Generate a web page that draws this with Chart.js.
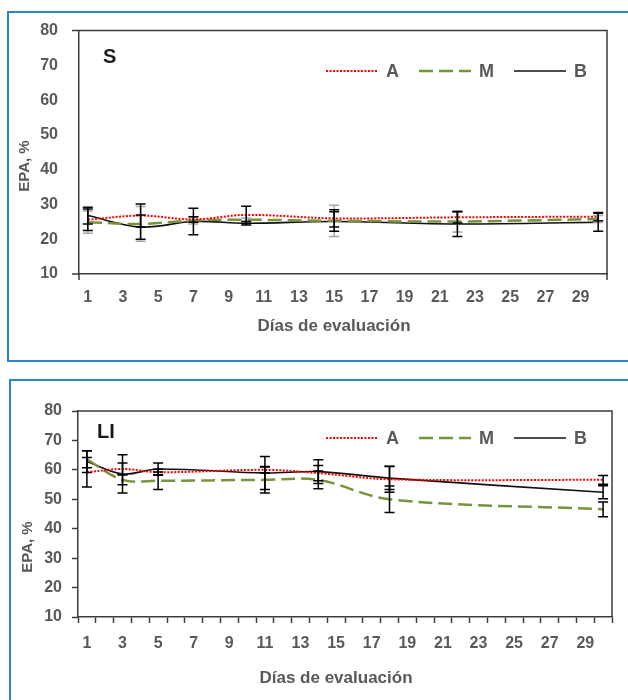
<!DOCTYPE html>
<html>
<head>
<meta charset="utf-8">
<script src="https://cdn.jsdelivr.net/npm/chart.js@4.4.1/dist/chart.umd.min.js"></script>
<style>
  html, body { margin: 0; padding: 0; background: #fff; overflow: hidden; }
  body { width: 628px; height: 700px; position: relative; }
  .panel { position: absolute; box-sizing: border-box; border: 2px solid #2d87cf; }
  #panelS { left: 7px; top: 11px; width: 700px; height: 351px; }
  #panelLI { left: 9px; top: 379px; width: 700px; height: 400px; }
  canvas { position: absolute; left: 0; }
  #chartS { top: 0; }
  #chartLI { top: 380px; }
</style>
</head>
<body>
<div class="panel" id="panelS"></div>
<div class="panel" id="panelLI"></div>
<canvas id="chartS" width="628" height="362"></canvas>
<canvas id="chartLI" width="628" height="320"></canvas>
<script>
// Category labels: days 1..30
const days = Array.from({ length: 30 }, (_, i) => String(i + 1));

// Panel S (means and error bars)
const sDays = [1, 4, 7, 10, 15, 22, 30];
const sA = [25.6, 26.8, 25.7, 27.0, 26.0, 26.3, 26.5];
const sM = [24.9, 24.4, 25.4, 25.6, 25.3, 25.1, 25.8];
const sB = [26.8, 23.5, 25.1, 24.6, 25.1, 24.4, 24.9];
const sAErr = [3.1, 3.3, 0.8, 2.5, 2.5, 1.6, 1.2];
const sMErr = [3.2, 5.0, 1.0, 0.5, 4.5, 3.0, 1.0];
const sBErr = [2.4, 3.5, 3.8, 0.5, 2.8, 3.6, 2.6];

// Panel LI (means and error bars)
const liDays = [1, 3, 5, 11, 14, 18, 30];
const liA = [59.2, 60.3, 59.2, 60.0, 58.9, 56.8, 56.6];
const liM = [63.6, 56.6, 56.3, 56.6, 56.6, 50.0, 46.6];
const liB = [62.8, 58.6, 60.3, 58.9, 59.4, 57.2, 52.4];
const liAErr = [5.0, 2.0, 1.0, 1.0, 2.6, 4.4, 1.5];
const liMErr = [2.9, 1.7, 3.0, 4.5, 3.0, 4.5, 2.5];
const liBErr = [3.7, 6.5, 2.0, 5.6, 4.0, 3.9, 2.2];

const yTicks = [10, 20, 30, 40, 50, 60, 70, 80];
const seriesNames = ['A', 'M', 'B'];

const FONT = '"Liberation Sans", Arial, Helvetica, sans-serif';
const TEXT_GRAY = '#595959';
const AXIS = '#3c3c3c';

function points(dayList, values) {
  return dayList.map((d, i) => ({ x: String(d), y: values[i] }));
}

/**
 * Draw vertical error bars with caps (gray ones first, black on top)
 */
const errorBarPlugin = {
  id: 'errorBars',
  afterDatasetsDraw(chart) {
    const { ctx } = chart;
    const yScale = chart.scales.y;
    const isBlack = i => (chart.data.datasets[i].errorColor === '#000' ? 1 : 0);
    const order = chart.data.datasets.map((ds, i) => i).sort((a, b) => isBlack(a) - isBlack(b));
    order.forEach(i => {
      const ds = chart.data.datasets[i];
      if (!ds.errors) return;
      const meta = chart.getDatasetMeta(i);
      ctx.save();
      ctx.strokeStyle = ds.errorColor;
      ctx.lineWidth = 1.5;
      meta.data.forEach((pt, j) => {
        const v = ds.data[j].y;
        const e = ds.errors[j];
        const top = yScale.getPixelForValue(v + e);
        const bot = yScale.getPixelForValue(v - e);
        ctx.beginPath();
        ctx.moveTo(pt.x, top); ctx.lineTo(pt.x, bot);
        ctx.moveTo(pt.x - 5, top); ctx.lineTo(pt.x + 5, top);
        ctx.moveTo(pt.x - 5, bot); ctx.lineTo(pt.x + 5, bot);
        ctx.stroke();
      });
      ctx.restore();
    });
  }
};

/**
 * Plot frame (top/right), legend inside the plot, panel letter and axis titles
 */
const framePlugin = {
  id: 'frame',
  afterDraw(chart, args, opts) {
    const { ctx, chartArea: a } = chart;
    ctx.save();
    ctx.strokeStyle = AXIS;
    ctx.lineWidth = 1.5;
    ctx.beginPath();
    ctx.moveTo(a.left - (opts.endTicks ? 7 : 0), a.top);
    ctx.lineTo(a.right, a.top);
    ctx.lineTo(a.right, a.bottom + (opts.endTicks ? 6 : 0));
    if (opts.endTicks) {
      ctx.moveTo(a.left - 7, a.bottom);
      ctx.lineTo(a.left, a.bottom);
      ctx.moveTo(a.left, a.bottom);
      ctx.lineTo(a.left, a.bottom + 6);
    }
    ctx.stroke();

    // legend: line sample + bold letter for each dataset
    ctx.font = 'bold 18px ' + FONT;
    ctx.textAlign = 'left';
    ctx.textBaseline = 'middle';
    let x = opts.legendX;
    const y = opts.legendY;
    chart.data.datasets.forEach(ds => {
      ctx.save();
      ctx.strokeStyle = ds.borderColor;
      ctx.lineWidth = ds.borderWidth;
      ctx.setLineDash(ds.borderDash || []);
      ctx.beginPath();
      ctx.moveTo(x, y);
      ctx.lineTo(x + 52, y);
      ctx.stroke();
      ctx.restore();
      ctx.fillStyle = TEXT_GRAY;
      ctx.fillText(ds.label, x + 60, y + 1);
      x += 60 + ctx.measureText(ds.label).width + 20;
    });

    // panel letter
    ctx.fillStyle = '#1a1a1a';
    ctx.font = 'bold 20px ' + FONT;
    ctx.fillText(opts.label, opts.labelX, opts.labelY);

    // axis titles
    ctx.fillStyle = TEXT_GRAY;
    ctx.textAlign = 'center';
    ctx.font = 'bold 17px ' + FONT;
    ctx.fillText('Días de evaluación', opts.xTitleX, opts.xTitleY);
    ctx.translate(opts.yTitleX, opts.yTitleY);
    ctx.rotate(-Math.PI / 2);
    ctx.font = 'bold 15px ' + FONT;
    ctx.fillText('EPA, %', 0, 0);
    ctx.restore();
  }
};

function buildChart(canvasId, dayList, a, m, b, aErr, mErr, bErr, cfg) {
  const canvas = document.getElementById(canvasId);
  const ctx = canvas.getContext('2d');
  const H = canvas.height;

  return new Chart(ctx, {
    type: 'line',
    data: {
      labels: days,
      datasets: [
        {
          label: seriesNames[0],
          data: points(dayList, a),
          errors: aErr,
          errorColor: '#000',
          borderColor: '#ff0000',
          borderWidth: 2,
          borderDash: [2, 1.5],
          tension: 0.35,
          pointRadius: 0
        },
        {
          label: seriesNames[1],
          data: points(dayList, m),
          errors: mErr,
          errorColor: cfg.mErrColor,
          borderColor: '#77933c',
          borderWidth: 2.5,
          borderDash: [14, 6],
          tension: 0.35,
          pointRadius: 0
        },
        {
          label: seriesNames[2],
          data: points(dayList, b),
          errors: bErr,
          errorColor: '#000',
          borderColor: '#111111',
          borderWidth: 1.6,
          tension: 0.35,
          pointRadius: 0
        }
      ]
    },
    options: {
      responsive: false,
      animation: false,
      layout: {
        padding: { top: cfg.top, right: 628 - cfg.right, left: 0, bottom: 0 }
      },
      scales: {
        x: {
          type: 'category',
          offset: true,
          grid: {
            offset: true,
            display: cfg.ticks,
            drawOnChartArea: false,
            drawTicks: cfg.ticks,
            tickLength: 6,
            tickColor: AXIS,
            tickWidth: 1.5
          },
          border: { color: AXIS, width: 1.5 },
          ticks: {
            autoSkip: false,
            maxRotation: 0,
            padding: cfg.xPad,
            color: TEXT_GRAY,
            font: { family: FONT, size: 16, weight: 'bold' },
            callback: function (val, idx) {
              return idx % 2 === 0 ? this.getLabelForValue(val) : '';
            }
          },
          afterFit: scale => { scale.height = H - cfg.bottom; }
        },
        y: {
          min: 10,
          max: 80,
          afterBuildTicks: scale => { scale.ticks = yTicks.map(v => ({ value: v })); },
          grid: {
            display: cfg.ticks,
            drawOnChartArea: false,
            drawTicks: cfg.ticks,
            tickLength: 6,
            tickColor: AXIS,
            tickWidth: 1.5
          },
          border: { color: AXIS, width: 1.5 },
          ticks: {
            padding: cfg.yPad,
            color: TEXT_GRAY,
            font: { family: FONT, size: 16, weight: 'bold' }
          },
          afterFit: scale => { scale.width = cfg.left; }
        }
      },
      plugins: {
        legend: { display: false },
        tooltip: { enabled: false },
        frame: cfg.frame
      }
    },
    plugins: [errorBarPlugin, framePlugin]
  });
}

buildChart('chartS', sDays, sA, sM, sB, sAErr, sMErr, sBErr, {
  top: 28, bottom: 274, left: 79, right: 607,
  ticks: false, xPad: 14, yPad: 21,
  mErrColor: '#a6a6a6',
  frame: {
    label: 'S', labelX: 103, labelY: 57,
    legendX: 326, legendY: 71,
    xTitleX: 334, xTitleY: 326, yTitleX: 25, yTitleY: 166, endTicks: true
  }
});

buildChart('chartLI', liDays, liA, liM, liB, liAErr, liMErr, liBErr, {
  top: 31, bottom: 237, left: 78, right: 612,
  ticks: true, xPad: 11, yPad: 10,
  mErrColor: '#000',
  frame: {
    label: 'LI', labelX: 97, labelY: 52,
    legendX: 326, legendY: 58,
    xTitleX: 336, xTitleY: 298, yTitleX: 28, yTitleY: 167, endTicks: false
  }
});
</script>
</body>
</html>
